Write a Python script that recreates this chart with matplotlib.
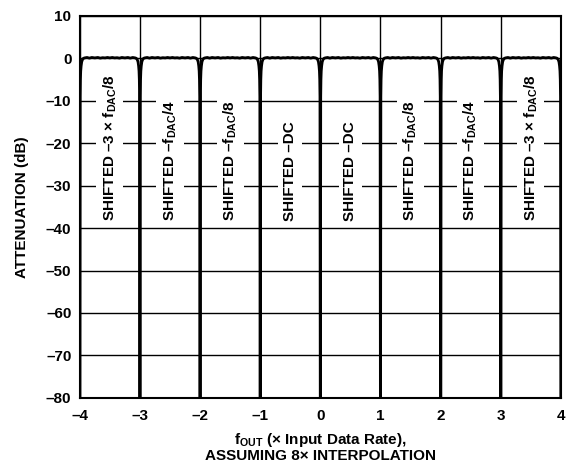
import numpy as np
import matplotlib
matplotlib.use("Agg")
import matplotlib.pyplot as plt

plt.rcParams["font.family"] = ["Liberation Sans", "DejaVu Sans"]
plt.rcParams["font.weight"] = "bold"
plt.rcParams["mathtext.fontset"] = "custom"
plt.rcParams["mathtext.rm"] = "Liberation Sans:bold"
plt.rcParams["mathtext.it"] = "Liberation Sans:bold"
plt.rcParams["mathtext.bf"] = "Liberation Sans:bold"

# one passband image: distance from band edge (x rate units) -> dB
edge_dist = [0.0, 0.003, 0.006, 0.01, 0.015, 0.022, 0.032, 0.045, 0.06, 0.08,
             0.12, 0.16, 0.2, 0.25, 0.3, 0.34, 0.38, 0.42, 0.46, 0.5]
edge_db = [-100.0, -60.0, -9.0, -5.0, -3.0, -1.8, -0.8, -0.3, 0.0, 0.1,
           0.2, 0.05, 0.2, 0.1, 0.2, 0.05, 0.15, 0.1, 0.2, 0.1]

band_starts = [-4, -3, -2, -1, 0, 1, 2, 3]
band_labels = [
    "SHIFTED –3 × f$_{\\mathrm{DAC}}$/8",
    "SHIFTED –f$_{\\mathrm{DAC}}$/4",
    "SHIFTED –f$_{\\mathrm{DAC}}$/8",
    "SHIFTED –DC",
    "SHIFTED –DC",
    "SHIFTED –f$_{\\mathrm{DAC}}$/8",
    "SHIFTED –f$_{\\mathrm{DAC}}$/4",
    "SHIFTED –3 × f$_{\\mathrm{DAC}}$/8",
]

xticks = [-4, -3, -2, -1, 0, 1, 2, 3, 4]
xtick_labels = ["–4", "–3", "–2", "–1", "0", "1", "2", "3", "4"]
yticks = [10, 0, -10, -20, -30, -40, -50, -60, -70, -80]
ytick_labels = ["10", "0", "–10", "–20", "–30", "–40", "–50", "–60", "–70", "–80"]

# build the full curve: each band rises from its left null and falls into its right null
d = np.array(edge_dist)
v = np.array(edge_db)
xs, ys = [], []
for s in band_starts:
    xs.append(s + d)
    ys.append(v)
    xs.append(s + 1 - d[::-1][1:])
    ys.append(v[::-1][1:])
x = np.concatenate(xs)
y = np.concatenate(ys)

fig = plt.figure(figsize=(5.7, 4.67), dpi=100)
ax = fig.add_axes([0.140, 0.148, 0.844, 0.818])

ax.set_xlim(-4, 4)
ax.set_ylim(-80, 10)
ax.set_xticks(xticks)
ax.set_xticklabels(xtick_labels, fontsize=11, fontweight="bold")
ax.set_yticks(yticks)
ax.set_yticklabels(ytick_labels, fontsize=11, fontweight="bold")
ax.tick_params(axis="x", length=0, pad=8)
ax.tick_params(axis="y", length=0, pad=6)
ax.grid(True, color="black", linewidth=1.0, zorder=0)
ax.set_axisbelow(True)
for sp in ax.spines.values():
    sp.set_linewidth(1.5)

ax.plot(x, y, color="black", linewidth=2.0, zorder=3, clip_on=True)

for s, lab in zip(band_starts, band_labels):
    ax.text(s + 0.5, -38.4, lab, rotation=90, ha="center", va="bottom",
            fontsize=11, fontweight="bold", zorder=2,
            bbox=dict(facecolor="white", edgecolor="none", pad=3.5))

ax.set_ylabel("ATTENUATION (dB)", fontsize=11, fontweight="bold", labelpad=12)
ax.set_xlabel("f$_{\\mathrm{OUT}}$ (× Input Data Rate),\nASSUMING 8× INTERPOLATION",
              fontsize=11, fontweight="bold", labelpad=6, linespacing=0.95)

fig.savefig("out.png", dpi=100)
